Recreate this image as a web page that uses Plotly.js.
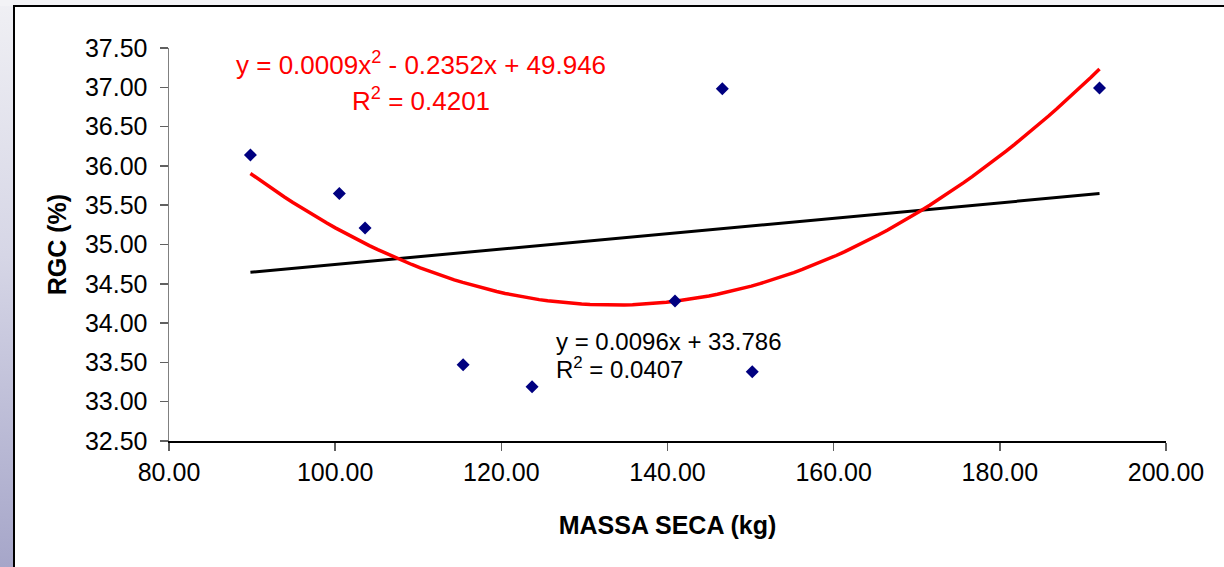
<!DOCTYPE html>
<html>
<head>
<meta charset="utf-8">
<script src="https://cdn.plot.ly/plotly-3.0.1.min.js"></script>
<style>
  html, body { margin: 0; padding: 0; }
  #wrap { position: relative; width: 1224px; height: 567px; overflow: hidden;
    background: linear-gradient(to bottom, #f0f0f4 0%, #d6d6e6 45%, #a6a6c9 100%); }
  #top { position: absolute; left: 0; top: 0; width: 1224px; height: 6px; background: #f3f3f6; }
  #frame { position: absolute; left: 13px; top: 5px; width: 1240px; height: 600px;
    background: #ffffff; border: 2px solid #000; box-sizing: border-box; }
  #chart { position: absolute; left: 0; top: 0; width: 1224px; height: 567px; }
</style>
</head>
<body>
<div id="wrap">
  <div id="top"></div>
  <div id="frame"></div>
  <div id="chart"></div>
</div>
<script>
// Data
const massaSeca = [89.8, 100.5, 103.6, 115.4, 123.7, 140.9, 146.6, 150.2, 192.0];
const rgc       = [36.14, 35.65, 35.21, 33.47, 33.19, 34.28, 36.98, 33.38, 36.99];
const yTicks = [32.5, 33, 33.5, 34, 34.5, 35, 35.5, 36, 36.5, 37, 37.5];
const xTicks = [80, 100, 120, 140, 160, 180, 200];
const eqPoly = 'y = 0.0009x<sup>2</sup> - 0.2352x + 49.946';
const r2Poly = 'R<sup>2</sup> = 0.4201';
const eqLin = 'y = 0.0096x + 33.786';
const r2Lin = 'R<sup>2</sup> = 0.0407';

// Least-squares trendlines computed from the data
function solve3(A, b) {
  const M = A.map((r, i) => r.concat([b[i]]));
  for (let i = 0; i < 3; i++) {
    let p = i;
    for (let k = i + 1; k < 3; k++) if (Math.abs(M[k][i]) > Math.abs(M[p][i])) p = k;
    [M[i], M[p]] = [M[p], M[i]];
    for (let k = 0; k < 3; k++) {
      if (k === i) continue;
      const f = M[k][i] / M[i][i];
      for (let j = i; j < 4; j++) M[k][j] -= f * M[i][j];
    }
  }
  return [M[0][3] / M[0][0], M[1][3] / M[1][1], M[2][3] / M[2][2]];
}
const n = massaSeca.length;
let S = [0, 0, 0, 0, 0], T = [0, 0, 0];
for (let i = 0; i < n; i++) {
  const x = massaSeca[i], y = rgc[i];
  for (let p = 0; p < 5; p++) S[p] += Math.pow(x, p);
  for (let p = 0; p < 3; p++) T[p] += y * Math.pow(x, p);
}
const [c0, c1, c2] = solve3([[S[0], S[1], S[2]], [S[1], S[2], S[3]], [S[2], S[3], S[4]]], T);
const mx = S[1] / n, my = T[0] / n;
let sxy = 0, sxx = 0;
for (let i = 0; i < n; i++) { sxy += (massaSeca[i] - mx) * (rgc[i] - my); sxx += (massaSeca[i] - mx) ** 2; }
const slope = sxy / sxx, icpt = my - slope * mx;
const xMin = Math.min(...massaSeca), xMax = Math.max(...massaSeca);
const xs = [];
for (let i = 0; i <= 100; i++) xs.push(xMin + (xMax - xMin) * i / 100);
const polyY = xs.map(x => c0 + c1 * x + c2 * x * x);
const linY = [xMin, xMax].map(x => icpt + slope * x);

const F = 'Arial, "Liberation Sans", sans-serif';
const traces = [
  { x: [xMin, xMax], y: linY, mode: 'lines', line: { color: '#000000', width: 3 }, hoverinfo: 'skip' },
  { x: xs, y: polyY, mode: 'lines', line: { color: '#ff0000', width: 3.5 }, hoverinfo: 'skip' },
  { x: massaSeca, y: rgc, mode: 'markers', marker: { symbol: 'diamond', size: 10, color: '#000080' } }
];
const layout = {
  width: 1224, height: 567,
  margin: { l: 169, r: 58, t: 48, b: 126 },
  paper_bgcolor: 'rgba(0,0,0,0)', plot_bgcolor: 'rgba(0,0,0,0)',
  showlegend: false,
  font: { family: F, size: 25, color: '#000' },
  xaxis: {
    range: [80, 200], tickvals: xTicks, tickformat: '.2f',
    showgrid: false, zeroline: false, showline: true, linecolor: '#000', linewidth: 1.5,
    ticks: 'outside', ticklen: 8, tickcolor: '#606060', tickwidth: 1.5,
    tickfont: { family: F, size: 25, color: '#000' },
    title: { text: '<b>MASSA SECA (kg)</b>', font: { family: F, size: 25, color: '#000' }, standoff: 32 }
  },
  yaxis: {
    range: [32.5, 37.5], tickvals: yTicks, tickformat: '.2f',
    showgrid: false, zeroline: false, showline: true, linecolor: '#808080', linewidth: 1.5,
    ticks: 'outside', ticklen: 8, tickcolor: '#606060', tickwidth: 1.5, ticklabelstandoff: 7,
    tickfont: { family: F, size: 25, color: '#000' },
    title: { text: '<b>RGC (%)</b>', font: { family: F, size: 25, color: '#000' }, standoff: 11 }
  },
  annotations: [
    { x: 110.33, y: 37.30, xref: 'x', yref: 'y', text: eqPoly, showarrow: false, xanchor: 'center', yanchor: 'middle', font: { family: F, size: 26, color: '#ff0000' } },
    { x: 110.33, y: 36.84, xref: 'x', yref: 'y', text: r2Poly, showarrow: false, xanchor: 'center', yanchor: 'middle', font: { family: F, size: 26, color: '#ff0000' } },
    { x: 126.3, y: 33.77, xref: 'x', yref: 'y', text: eqLin, showarrow: false, xanchor: 'left', yanchor: 'middle', font: { family: F, size: 24, color: '#000' } },
    { x: 126.3, y: 33.43, xref: 'x', yref: 'y', text: r2Lin, showarrow: false, xanchor: 'left', yanchor: 'middle', font: { family: F, size: 24, color: '#000' } }
  ]
};
Plotly.newPlot('chart', traces, layout, { displayModeBar: false, staticPlot: true });
</script>
</body>
</html>
